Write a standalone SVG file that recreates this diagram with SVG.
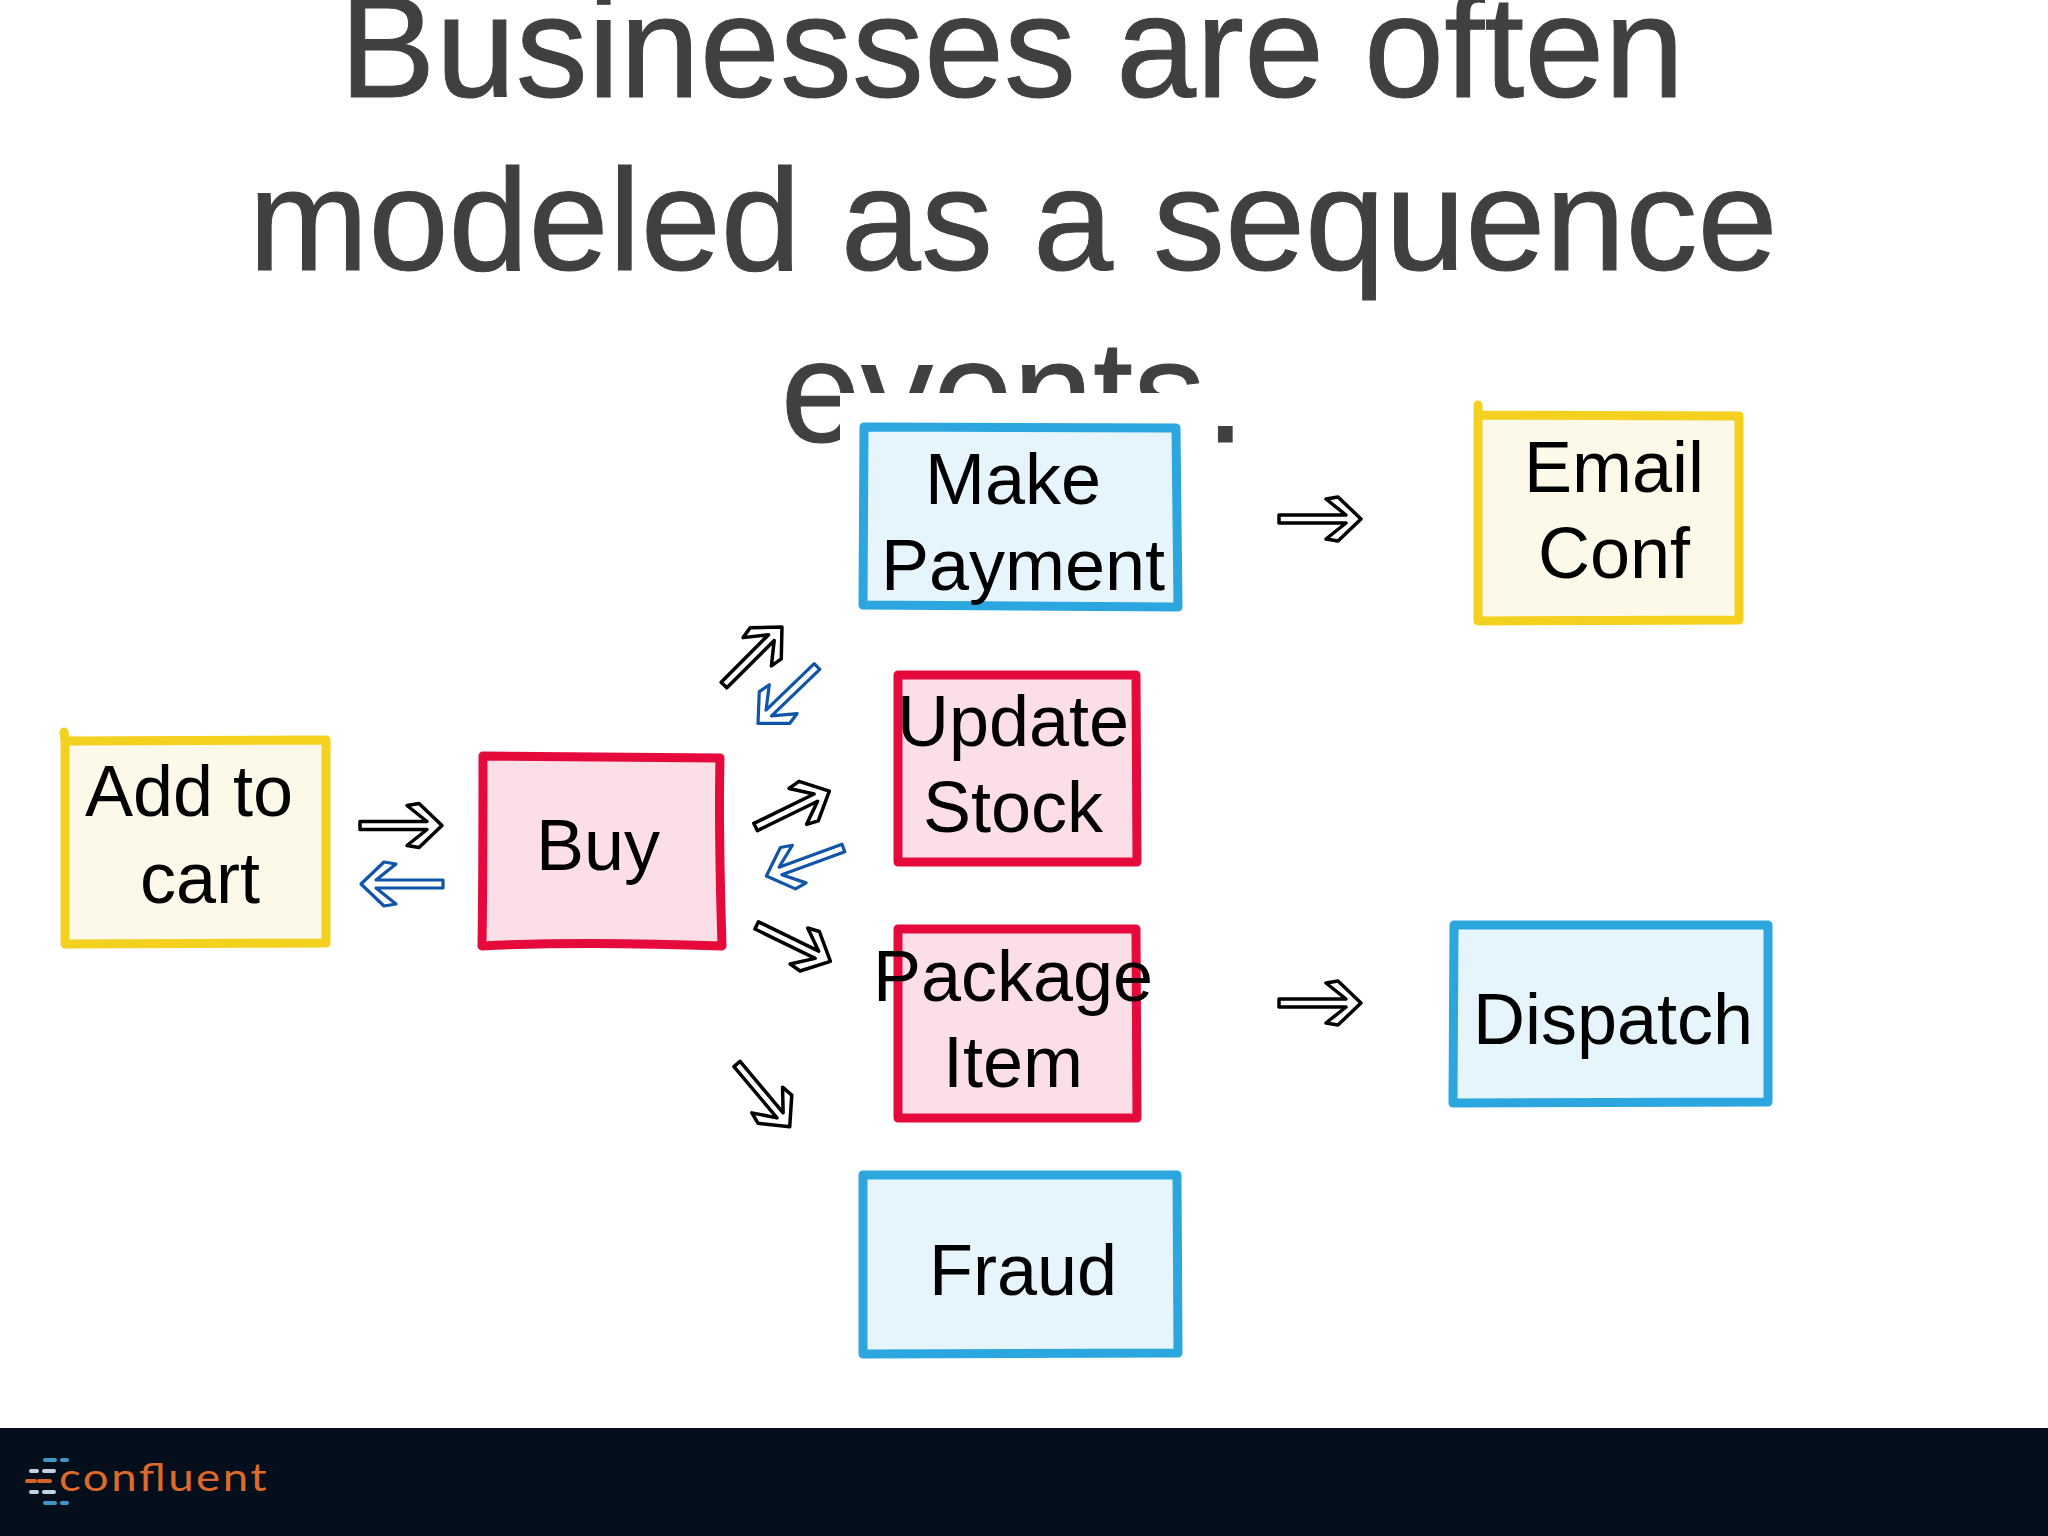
<svg xmlns="http://www.w3.org/2000/svg" xmlns:xlink="http://www.w3.org/1999/xlink" width="2048" height="1536" viewBox="0 0 2048 1536">
<style>
.title{font-family:"Liberation Sans",Arial,sans-serif;font-size:144px;fill:#404040;stroke:#404040;stroke-width:1;text-anchor:middle}
.lbl{font-family:"Liberation Sans",Arial,sans-serif;font-size:72px;fill:#000;text-anchor:middle}
.box{stroke-width:9;stroke-linejoin:round;stroke-linecap:round}
.blue{stroke:#2ba6de;fill:#e6f5fb}
.red{stroke:#e5093c;fill:#fcdfe6}
.yellow{stroke:#f4d01f;fill:#fdf9e9}
.k{fill:#fff;stroke:#000;stroke-width:3.5;stroke-linejoin:round}
.b{fill:#fff;stroke:#1155a8;stroke-width:3.2;stroke-linejoin:round}
.d{stroke-width:4;stroke-linecap:round;fill:none}
</style>
<defs>
<path id="arrow" d="M0,-4H67L47,-20L59,-22L82,0L59,22L47,20L67,4H0Z"/>
</defs>
<rect width="2048" height="1536" fill="#fff"/>
<g id="title">
<text class="title" x="1012" y="97">Businesses are often</text>
<text class="title" x="1013" y="270">modeled as a sequence</text>
<text class="title" x="1013" y="442">events.</text>
</g>
<rect x="840" y="393" width="375" height="57" fill="#fff"/>
<g id="connectors">
<use xlink:href="#arrow" href="#arrow" class="k" transform="translate(360,825.5)"/>
<use xlink:href="#arrow" href="#arrow" class="b" transform="translate(443,884) rotate(180)"/>
<use xlink:href="#arrow" href="#arrow" class="k" transform="translate(724,685) rotate(-45)"/>
<use xlink:href="#arrow" href="#arrow" class="b" transform="translate(817,666.5) rotate(136)"/>
<use xlink:href="#arrow" href="#arrow" class="k" transform="translate(755.6,827) rotate(-26)"/>
<use xlink:href="#arrow" href="#arrow" class="b" transform="translate(843.4,848) rotate(160)"/>
<use xlink:href="#arrow" href="#arrow" class="k" transform="translate(756.7,925.4) rotate(26)"/>
<use xlink:href="#arrow" href="#arrow" class="k" transform="translate(737,1064) rotate(50)"/>
<use xlink:href="#arrow" href="#arrow" class="k" transform="translate(1279,519)"/>
<use xlink:href="#arrow" href="#arrow" class="k" transform="translate(1279,1003)"/>
</g>
<g id="add-to-cart">
<path class="box yellow" d="M64,732L65,741L326,740L326,943L65,944L65,741"/>
<text class="lbl" x="189" y="816">Add to</text>
<text class="lbl" x="200" y="903">cart</text>
</g>
<g id="buy">
<path class="box red" d="M483,756L720,758C719,800 720,880 722,946C640,943 560,942 482,946C483,880 483,800 483,756Z"/>
<text class="lbl" x="598" y="870">Buy</text>
</g>
<g id="make-payment">
<path class="box blue" d="M864,427L1176,428L1178,607L863,605Z"/>
<text class="lbl" x="1013" y="504">Make</text>
<text class="lbl" x="1023" y="590">Payment</text>
</g>
<g id="update-stock">
<path class="box red" d="M898,675L1136,675L1137,862L898,862Z"/>
<text class="lbl" x="1013" y="746">Update</text>
<text class="lbl" x="1013" y="832">Stock</text>
</g>
<g id="package-item">
<path class="box red" d="M898,929L1136,929L1137,1118L898,1118Z"/>
<text class="lbl" x="1013" y="1001">Package</text>
<text class="lbl" x="1013" y="1087">Item</text>
</g>
<g id="fraud">
<path class="box blue" d="M863,1175L1177,1175L1178,1353L863,1354Z"/>
<text class="lbl" x="1023" y="1295">Fraud</text>
</g>
<g id="email-conf">
<path class="box yellow" d="M1478,405L1478,415L1739,416L1739,620L1478,621L1478,415"/>
<text class="lbl" x="1614" y="492">Email</text>
<text class="lbl" x="1614" y="578">Conf</text>
</g>
<g id="dispatch">
<path class="box blue" d="M1454,925L1768,925L1768,1102L1453,1103Z"/>
<text class="lbl" x="1613" y="1044">Dispatch</text>
</g>
<g id="footer">
<rect x="0" y="1428" width="2048" height="108" fill="#050f1c"/>
<path class="d" stroke="#3f97c8" d="M45,1460H55M62,1460H67M45,1503H55M62,1503H67"/>
<path class="d" stroke="#c3d3e3" d="M31,1471H37M44,1471H54M31,1492H37M44,1492H54"/>
<path class="d" stroke="#d9622b" d="M27,1481H35M39,1481H50"/>
<text transform="translate(59,1491) scale(1.2,1)" font-family="Lato,sans-serif" font-size="38" fill="#dd6a2a" textLength="173" lengthAdjust="spacing">confluent</text>
</g>
</svg>
